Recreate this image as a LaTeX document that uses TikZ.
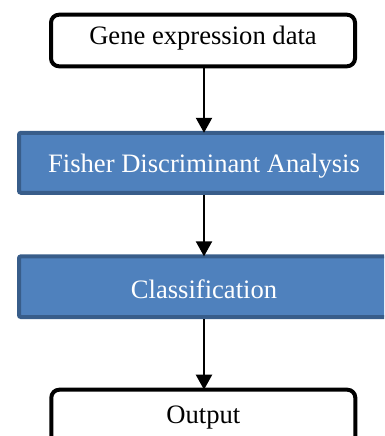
\documentclass[tikz,border=0pt]{standalone}
\usepackage{fontspec}
\setmainfont{Liberation Serif}
\usetikzlibrary{arrows.meta}
\definecolor{stepfill}{HTML}{4F81BD}
\definecolor{stepline}{HTML}{385D8A}
\tikzset{
  x=1pt, y=-1pt,
  every node/.style={font=\fontsize{26.6}{30}\selectfont},
  endbox/.style={draw=black, fill=white, line width=4pt, rounded corners=8pt,
    minimum width=304pt, inner sep=0pt},
  stagebox/.style={draw=stepline, fill=stepfill, line width=4pt, rounded corners=2pt,
    minimum width=370pt, inner sep=0pt, text=white},
  flow/.style={line width=2.2pt, shorten >=-2pt, -{Triangle[width=16pt,length=15pt]}}
}
\begin{document}
\begin{tikzpicture}
  \clip (0,0) rectangle (384,436);
  % start and end of the pipeline
  \node[endbox, minimum height=51.6pt, text height=18pt, text depth=10.4pt] (data) at (203,40.5) {Gene expression data};
  \node[endbox, minimum height=60pt, text height=18pt, text depth=11pt] (out) at (203.3,419.7) {Output};
  % processing stages
  \node[stagebox, minimum height=60pt, text height=20pt, text depth=0pt] (fda) at (204,162.8) {Fisher Discriminant Analysis};
  \node[stagebox, minimum height=60.7pt, text height=23pt, text depth=0pt] (cls) at (204,286.7) {Classification};
  % connectors
  \draw[flow] (data.south -| fda.north) -- (fda.north);
  \draw[flow] (fda.south) -- (cls.north);
  \draw[flow] (cls.south) -- (out.north -| cls.south);
\end{tikzpicture}
\end{document}
